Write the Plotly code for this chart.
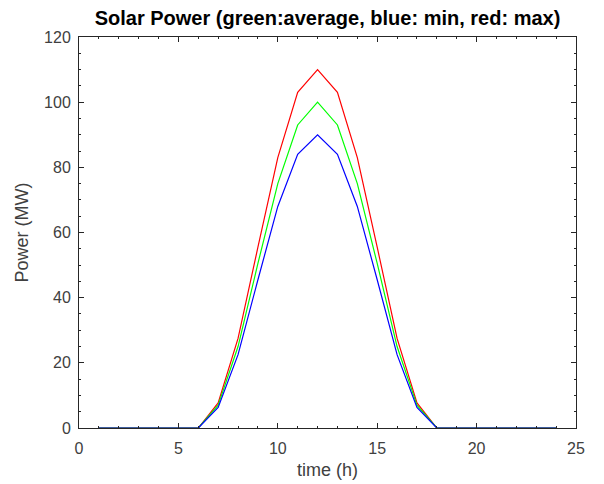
import plotly.graph_objects as go

hours = list(range(1, 25))
power_avg = [0, 0, 0, 0, 0, 0, 7, 25, 50.5, 75, 93, 100, 93, 75, 50.5, 25, 7, 0, 0, 0, 0, 0, 0, 0]
power_min = [0, 0, 0, 0, 0, 0, 6.3, 22.5, 45.5, 68, 84, 90, 84, 68, 45.5, 22.5, 6.3, 0, 0, 0, 0, 0, 0, 0]
power_max = [0, 0, 0, 0, 0, 0, 7.7, 27.5, 55.5, 83, 103, 110, 103, 83, 55.5, 27.5, 7.7, 0, 0, 0, 0, 0, 0, 0]

x_ticks = [0, 5, 10, 15, 20, 25]
y_ticks = [0, 20, 40, 60, 80, 100, 120]

FONT = "Liberation Sans, Arial, sans-serif"

fig = go.Figure()
fig.add_trace(go.Scatter(x=hours, y=power_max, mode="lines", line=dict(color="#FF0000", width=1.2), name="max"))
fig.add_trace(go.Scatter(x=hours, y=power_avg, mode="lines", line=dict(color="#00FF00", width=1.2), name="average"))
fig.add_trace(go.Scatter(x=hours, y=power_min, mode="lines", line=dict(color="#0000FF", width=1.2), name="min"))

axis_common = dict(
    showgrid=False, zeroline=False, showline=True, linecolor="#262626", linewidth=1,
    mirror="allticks", ticks="inside", ticklen=5, tickcolor="#262626",
    tickfont=dict(family=FONT, size=16, color="#404040"),
)

fig.update_layout(
    width=596, height=476,
    margin=dict(l=71, r=28, t=29, b=56, autoexpand=False),
    paper_bgcolor="white", plot_bgcolor="white",
    showlegend=False,
    title=dict(
        text="<b>Solar Power (green:average, blue: min, red: max)</b>",
        x=0.5, xanchor="center", xref="paper", yref="container", y=1 - 10 / 476, yanchor="middle",
        font=dict(family=FONT, size=20, color="black"),
    ),
    xaxis=dict(
        range=[0, 25], tickvals=x_ticks, ticktext=[str(v) for v in x_ticks],
        title=dict(text="time (h)", font=dict(family=FONT, size=18, color="#404040"), standoff=7),
        ticklabelstandoff=6,
        minor=dict(ticks="inside", ticklen=2, tickcolor="#262626", dtick=1),
        **axis_common,
    ),
    yaxis=dict(
        range=[0, 120], tickvals=y_ticks, ticktext=[str(v) for v in y_ticks],
        title=dict(text="Power (MW)", font=dict(family=FONT, size=18, color="#404040"), standoff=10),
        ticklabelstandoff=4,
        minor=dict(ticks="inside", ticklen=2, tickcolor="#262626", dtick=5),
        **axis_common,
    ),
)

fig.write_html("out.html")
